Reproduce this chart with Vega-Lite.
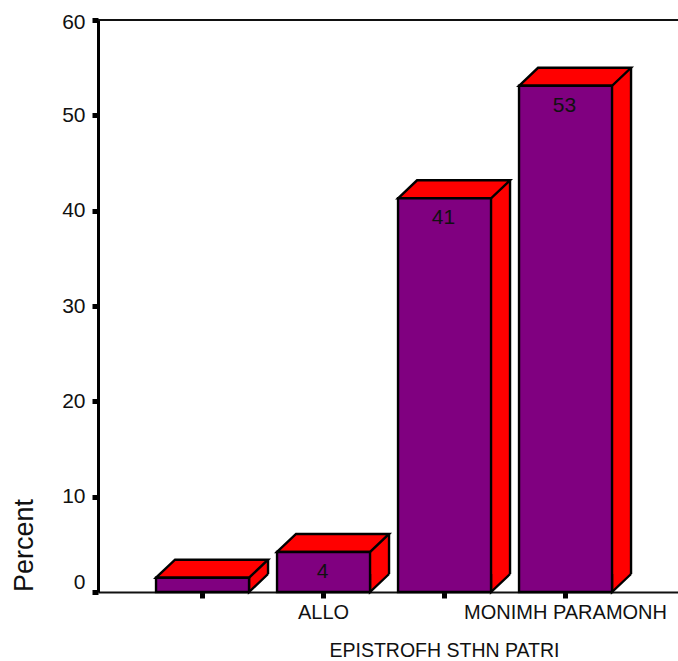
{
  "$schema": "https://vega.github.io/schema/vega-lite/v6.json",
  "width": 580,
  "height": 572,
  "autosize": "none",
  "padding": {"left": 98, "top": 20, "right": 0, "bottom": 69},
  "background": "white",
  "config": {"view": {"stroke": null}, "text": {"font": "Liberation Sans"}},
  "data": {"values": [
    {"category": " ", "percent": 1.5},
    {"category": "ALLO", "percent": 4.2},
    {"category": "  ", "percent": 41.3},
    {"category": "MONIMH PARAMONH", "percent": 53.1}
  ]},
  "encoding": {
    "x": {
      "field": "category", "type": "nominal", "sort": null,
      "scale": {"paddingInner": 0.23, "paddingOuter": 0.5117, "align": 0.468},
      "axis": {
        "title": "EPISTROFH STHN PATRI", "titleFont": "Liberation Sans", "titleFontSize": 19.5, "titleFontWeight": "normal", "titleColor": "#111111",
        "titleX": 346, "titleY": 58, "titleAlign": "center", "titleBaseline": "middle",
        "labelAngle": 0, "labelFont": "Liberation Sans", "labelFontSize": 20, "labelColor": "#111111", "labelOverlap": false, "labelLimit": 400, "labelPadding": 4,
        "tickSize": 6, "tickWidth": 5, "tickColor": "black", "domainColor": "#111111", "domainWidth": 2
      }
    },
    "y": {
      "field": "percent", "type": "quantitative",
      "scale": {"domain": [0, 60], "nice": false},
      "axis": {
        "values": [0, 10, 20, 30, 40, 50, 60], "grid": false,
        "title": "Percent", "titleFont": "Liberation Sans", "titleFontSize": 27, "titleFontWeight": "normal", "titleColor": "#111111",
        "titleX": -74, "titleY": 525, "titleAngle": -90, "titleAlign": "center", "titleBaseline": "middle",
        "labelFont": "Liberation Sans", "labelFontSize": 21, "labelColor": "#111111", "labelPadding": 7, "labelBound": false, "labelFlush": false, "labelOverlap": false,
        "labelOffset": {"condition": [{"test": "datum.value === 0", "value": -10}, {"test": "datum.value === 60", "value": 2}], "value": 0},
        "tickSize": 6, "tickWidth": 5, "tickColor": "black", "domainColor": "black", "domainWidth": 3
      }
    }
  },
  "layer": [
    {
      "mark": {"type": "rule", "color": "#111111", "strokeWidth": 2},
      "encoding": {"x": {"value": 0}, "x2": {"value": 580}, "y": {"datum": 60}}
    },
    {
      "mark": {"type": "bar", "width": 93, "xOffset": 19, "yOffset": -18, "y2Offset": -18, "color": "#ff0000", "strokeWidth": 0},
      "encoding": {"y2": {"datum": 0}}
    },
    {
      "mark": {"type": "rule", "xOffset": 65.5, "yOffset": -18, "y2Offset": -18, "color": "black", "strokeWidth": 2.4},
      "encoding": {"y2": {"datum": 0}}
    },
    {
      "mark": {"type": "point", "shape": "M46.5,-18L46.5,0L65.5,-18", "size": 4, "filled": true, "fill": "#ff0000", "stroke": "black", "strokeWidth": 2.4, "opacity": 1},
      "encoding": {"y": {"datum": 0}}
    },
    {
      "mark": {"type": "point", "shape": "M-46.5,0L-27.5,-18L65.5,-18L46.5,0Z", "size": 4, "filled": true, "fill": "#ff0000", "stroke": "black", "strokeWidth": 2.4, "opacity": 1}
    },
    {
      "mark": {"type": "bar", "width": 93, "color": "#800080", "stroke": "black", "strokeWidth": 2.4},
      "encoding": {"y2": {"datum": 0}}
    },
    {
      "transform": [{"filter": "datum.percent >= 2"}],
      "mark": {"type": "text", "font": "Liberation Sans", "fontSize": 21, "color": "#111111", "baseline": "middle", "dy": 20, "dx": -1},
      "encoding": {"text": {"field": "percent", "type": "quantitative", "format": ".0f"}}
    }
  ]
}
